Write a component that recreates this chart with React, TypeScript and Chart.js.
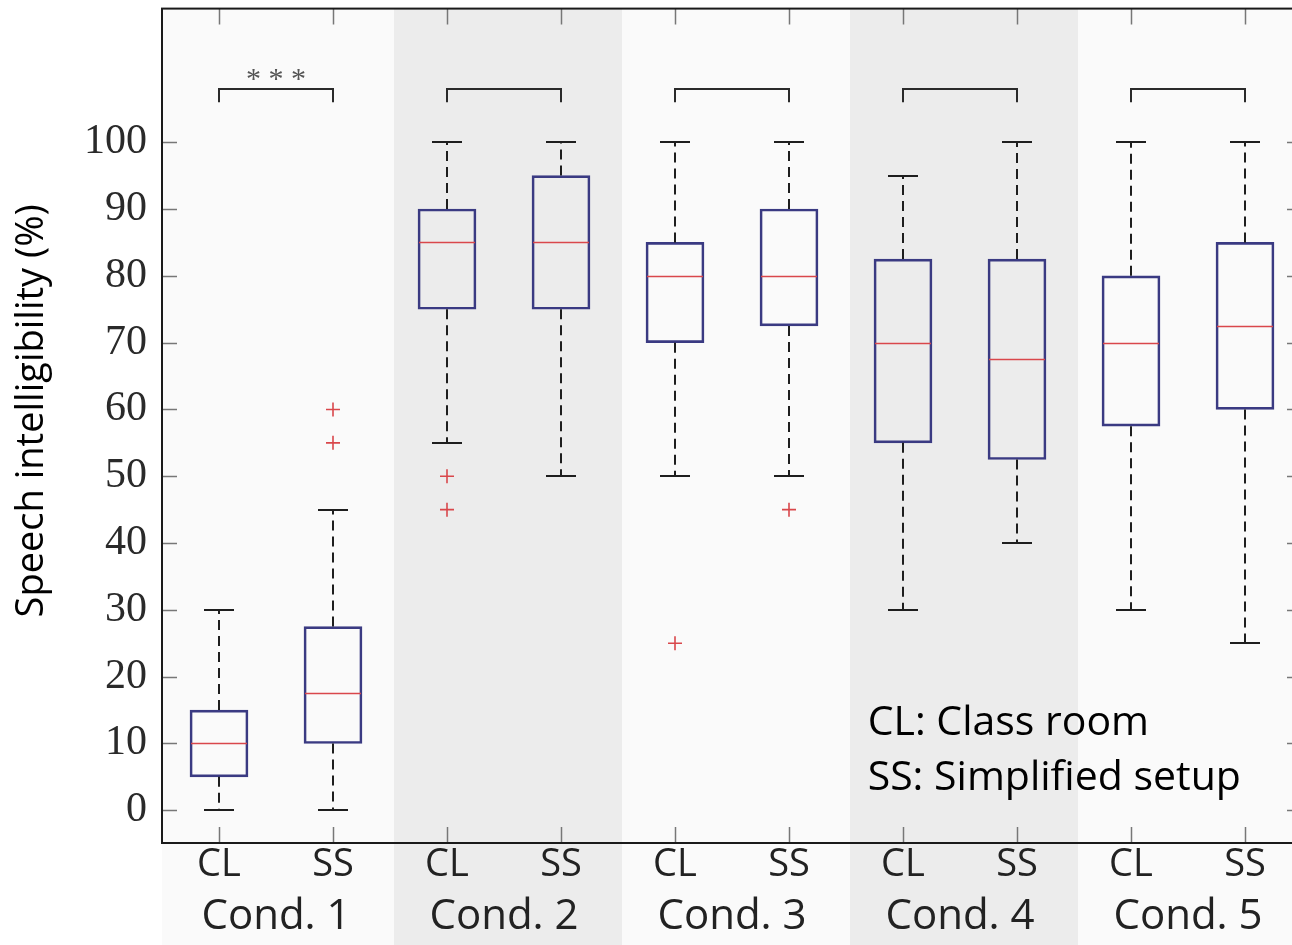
import React, { useEffect, useRef } from "react";
import { Chart, registerables } from "chart.js";

Chart.register(...registerables);

// ---- data ----
const xLabels = ["CL", "SS", "CL", "SS", "CL", "SS", "CL", "SS", "CL", "SS"];
const condLabels = ["Cond. 1", "Cond. 2", "Cond. 3", "Cond. 4", "Cond. 5"];
const condCenters = [0.5, 2.5, 4.5, 6.5, 8.5];
const whiskerLow = [0, 0, 55, 50, 50, 50, 30, 40, 30, 25];
const q1 = [5, 10, 75, 75, 70, 72.5, 55, 52.5, 57.5, 60];
const median = [10, 17.5, 85, 85, 80, 80, 70, 67.5, 70, 72.5];
const q3 = [15, 27.5, 90, 95, 85, 90, 82.5, 82.5, 80, 85];
const whiskerHigh = [30, 45, 100, 100, 100, 100, 95, 100, 100, 100];
const outliers: number[][] = [[], [60, 55], [50, 45], [], [25], [45], [], [], [], []];
const yTicks = [0, 10, 20, 30, 40, 50, 60, 70, 80, 90, 100];
const bracketLevel = 108;
const bracketEnd = 106;
const significance = ["***", "", "", "", ""];
const significanceLevel = 110.2;
const yTitle = "Speech intelligibility (%)";
const noteLines = ["CL: Class room", "SS: Simplified setup"];
const noteX = 5.69;
const noteY = [11.2, 3.0];
const bandColors = ["#fafafa", "#ececec", "#fafafa", "#ececec", "#fafafa"];

const SANS = "'Open Sans', 'Noto Sans', sans-serif";
const SERIF = "'Liberation Serif', 'DejaVu Serif', serif";
const BAND_SHIFT = 0.035;

const decorPlugin = {
  id: "decor",
  beforeDraw(chart: any) {
    const { ctx, chartArea, width, height } = chart;
    const x = chart.scales.x;
    ctx.save();
    ctx.fillStyle = "#ffffff";
    ctx.fillRect(0, 0, width, height);
    condCenters.forEach((c, i) => {
      const l = i === 0 ? chartArea.left : x.getPixelForValue(c - 1 + BAND_SHIFT);
      const r = i === condCenters.length - 1 ? width : x.getPixelForValue(c + 1 + BAND_SHIFT);
      ctx.fillStyle = bandColors[i];
      ctx.fillRect(l, chartArea.top, r - l, height - chartArea.top);
    });
    ctx.restore();
  },
  afterDatasetsDraw(chart: any) {
    const { ctx, chartArea } = chart;
    const x = chart.scales.x;
    const y = chart.scales.y;
    const { left, right, top, bottom } = chartArea;
    ctx.save();

    // whiskers
    const capHalf = 15;
    xLabels.forEach((_, i) => {
      const px = x.getPixelForValue(i);
      ctx.strokeStyle = "#1e1e1e";
      ctx.lineWidth = 2;
      ctx.setLineDash([10, 6]);
      ctx.beginPath();
      ctx.moveTo(px, y.getPixelForValue(q3[i]));
      ctx.lineTo(px, y.getPixelForValue(whiskerHigh[i]));
      ctx.moveTo(px, y.getPixelForValue(q1[i]));
      ctx.lineTo(px, y.getPixelForValue(whiskerLow[i]));
      ctx.stroke();
      ctx.setLineDash([]);
      ctx.beginPath();
      const yh = Math.round(y.getPixelForValue(whiskerHigh[i]));
      const yl = Math.round(y.getPixelForValue(whiskerLow[i]));
      ctx.moveTo(px - capHalf, yh);
      ctx.lineTo(px + capHalf, yh);
      ctx.moveTo(px - capHalf, yl);
      ctx.lineTo(px + capHalf, yl);
      ctx.stroke();
      // median
      const ym = Math.round(y.getPixelForValue(median[i])) + 0.5;
      ctx.strokeStyle = "#d9474b";
      ctx.lineWidth = 1.6;
      ctx.beginPath();
      ctx.moveTo(px - 28, ym);
      ctx.lineTo(px + 28, ym);
      ctx.stroke();
    });

    // brackets
    ctx.strokeStyle = "#2a2a2a";
    ctx.lineWidth = 2;
    condCenters.forEach((c, i) => {
      const l = x.getPixelForValue(c - 0.5);
      const r = x.getPixelForValue(c + 0.5);
      const yb = Math.round(y.getPixelForValue(bracketLevel));
      const ye = y.getPixelForValue(bracketEnd);
      ctx.beginPath();
      ctx.moveTo(l, ye);
      ctx.lineTo(l, yb);
      ctx.lineTo(r, yb);
      ctx.lineTo(r, ye);
      ctx.stroke();
      if (significance[i]) {
        ctx.fillStyle = "#555";
        ctx.font = `30px ${SERIF}`;
        ctx.textAlign = "center";
        ctx.textBaseline = "middle";
        ctx.fillText(significance[i].split("").join(" "), x.getPixelForValue(c), y.getPixelForValue(significanceLevel) + 6);
      }
    });

    // tick marks (inward)
    ctx.strokeStyle = "#777";
    ctx.lineWidth = 1.5;
    ctx.beginPath();
    yTicks.forEach((v) => {
      const py = Math.round(y.getPixelForValue(v)) + 0.5;
      ctx.moveTo(left, py);
      ctx.lineTo(left + 15, py);
      ctx.moveTo(right, py);
      ctx.lineTo(right - 15, py);
    });
    xLabels.forEach((_, i) => {
      const px = Math.round(x.getPixelForValue(i)) + 0.5;
      ctx.moveTo(px, top);
      ctx.lineTo(px, top + 16);
      ctx.moveTo(px, bottom);
      ctx.lineTo(px, bottom - 16);
    });
    ctx.stroke();

    // frame
    ctx.strokeStyle = "#1a1a1a";
    ctx.lineWidth = 2;
    ctx.strokeRect(left, top, right - left, bottom - top);

    // note text
    ctx.fillStyle = "#000";
    ctx.font = `41px ${SANS}`;
    ctx.textAlign = "left";
    ctx.textBaseline = "alphabetic";
    noteLines.forEach((t, i) => {
      ctx.fillText(t, x.getPixelForValue(noteX), y.getPixelForValue(noteY[i]));
    });

    // y title
    ctx.translate(43, (top + bottom) / 2 - 15);
    ctx.rotate(-Math.PI / 2);
    ctx.font = `38px ${SANS}`;
    ctx.textAlign = "center";
    ctx.textBaseline = "alphabetic";
    ctx.fillText(yTitle, 0, 0);
    ctx.restore();
  },
};

const zeroPad = (s: any) => {
  s.paddingTop = 0;
  s.paddingBottom = 0;
  s.paddingLeft = 0;
  s.paddingRight = 0;
};

export default function App() {
  const ref = useRef<HTMLCanvasElement>(null);
  useEffect(() => {
    if (!ref.current) return;
    const chart = new Chart(ref.current, {
      type: "bar",
      data: {
        datasets: [
          {
            type: "bar",
            label: "box",
            data: xLabels.map((_, i) => ({ x: i, y: [q1[i], q3[i]] })) as any,
            backgroundColor: "rgba(0,0,0,0)",
            borderColor: "#3a3a82",
            borderWidth: 2,
            borderSkipped: false,
            barThickness: 58,
            grouped: false,
          } as any,
          {
            type: "scatter",
            label: "outliers",
            data: outliers.flatMap((arr, i) => arr.map((v) => ({ x: i, y: v }))),
            pointStyle: "cross",
            radius: 7,
            borderColor: "#d9474b",
            borderWidth: 1.6,
            backgroundColor: "#d9474b",
          } as any,
        ],
      },
      options: {
        responsive: false,
        animation: false,
        devicePixelRatio: 1,
        layout: { padding: { top: 7, right: 10, left: 0, bottom: 0 } },
        plugins: { legend: { display: false }, tooltip: { enabled: false }, title: { display: false } },
        scales: {
          x: {
            type: "linear",
            position: "bottom",
            min: -0.5,
            max: 9.5,
            offset: false,
            weight: 0,
            grid: { display: false, drawTicks: false },
            border: { display: false },
            afterBuildTicks: (s: any) => {
              s.ticks = xLabels.map((_, i) => ({ value: i }));
            },
            afterFit: (s: any) => {
              s.height = 50;
              zeroPad(s);
            },
            ticks: {
              autoSkip: false,
              maxRotation: 0,
              minRotation: 0,
              padding: 3,
              color: "#222",
              font: { family: SANS, size: 38, lineHeight: 1 },
              callback: (_v: any, i: number) => xLabels[i],
            },
          },
          x2: {
            type: "linear",
            position: "bottom",
            min: -0.5,
            max: 9.5,
            offset: false,
            weight: 1,
            grid: { display: false, drawTicks: false },
            border: { display: false },
            afterBuildTicks: (s: any) => {
              s.ticks = condCenters.map((v) => ({ value: v }));
            },
            afterFit: (s: any) => {
              s.height = 52;
              zeroPad(s);
            },
            ticks: {
              autoSkip: false,
              maxRotation: 0,
              minRotation: 0,
              padding: 3,
              color: "#222",
              font: { family: SANS, size: 42, lineHeight: 1 },
              callback: (_v: any, i: number) => condLabels[i],
            },
          },
          y: {
            type: "linear",
            min: -4.9,
            max: 120,
            grid: { display: false, drawTicks: false },
            border: { display: false },
            afterBuildTicks: (s: any) => {
              s.ticks = yTicks.map((v) => ({ value: v }));
            },
            afterFit: (s: any) => {
              s.width = 162;
              zeroPad(s);
            },
            ticks: {
              padding: 15,
              color: "#2a2a2a",
              font: { family: SERIF, size: 42, lineHeight: 1 },
            },
          },
        } as any,
      },
      plugins: [decorPlugin],
    });
    return () => chart.destroy();
  }, []);

  return (
    <div style={{ position: "fixed", left: 0, top: 0, width: 1292, height: 945, overflow: "hidden", background: "#fff" }}>
      <canvas ref={ref} width={1312} height={945} style={{ display: "block", width: 1312, height: 945 }} />
    </div>
  );
}
